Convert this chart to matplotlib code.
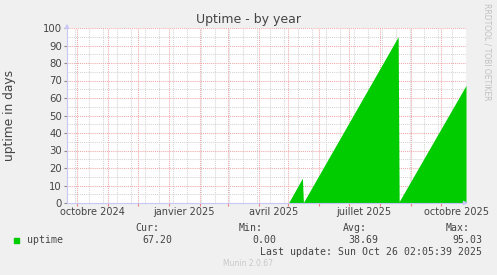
import matplotlib
matplotlib.use("Agg")
import matplotlib.pyplot as plt
import matplotlib.dates as mdates
import matplotlib.transforms as mtransforms
import pandas as pd
import numpy as np

# uptime in days, breakpoints of the series (no data before May 2025)
dates = pd.to_datetime([
    "2025-05-01", "2025-05-15", "2025-05-16",
    "2025-08-19", "2025-08-20", "2025-10-26",
])
uptime = [0.0, 14.2, 0.3, 95.03, 0.8, 67.2]

month_labels = ["octobre 2024", "janvier 2025", "avril 2025", "juillet 2025", "octobre 2025"]
label_dates = pd.to_datetime(["2024-10-16", "2025-01-16", "2025-04-16", "2025-07-16", "2025-10-16"])

stats_heads = ["Cur:", "Min:", "Avg:", "Max:"]
stats_values = ["67.20", "0.00", "38.69", "95.03"]

W, H = 497, 275
BG = "#F0F0F0"
TXT = "#444444"
AXC = "#C8C8F8"

fig = plt.figure(figsize=(W / 100, H / 100), dpi=100, facecolor=BG)
ax = fig.add_axes([67 / W, (H - 203) / H, (466 - 67) / W, (203 - 28) / H])
ax.set_facecolor("white")

ax.fill_between(dates, uptime, 0, color="#00CC00", linewidth=0, zorder=3)

ax.set_xlim(pd.Timestamp("2024-09-21"), pd.Timestamp("2025-10-26"))
ax.set_ylim(0, 100)

# grid: red major, grey minor
ax.xaxis.set_major_locator(mdates.MonthLocator())
minor_dates = pd.date_range("2024-09-29", "2025-10-26", freq="14D")
ax.xaxis.set_minor_locator(matplotlib.ticker.FixedLocator(mdates.date2num(minor_dates)))
ax.yaxis.set_major_locator(matplotlib.ticker.MultipleLocator(10))
ax.yaxis.set_minor_locator(matplotlib.ticker.MultipleLocator(5))
dots = (0, (1, 1))
ax.grid(which="minor", color="#D4D4D4", linestyle=dots, linewidth=0.75, zorder=1)
ax.grid(which="major", color="#F0A8A8", linestyle=dots, linewidth=0.75, zorder=2)
ax.set_axisbelow(True)

ax.xaxis.set_major_formatter(matplotlib.ticker.NullFormatter())
ax.tick_params(axis="x", which="major", length=2, color="#F08080", direction="out")
ax.tick_params(axis="x", which="minor", length=0)
ax.tick_params(axis="y", which="major", length=2, color="#888888", labelsize=7.3,
               labelcolor=TXT, pad=1.5)
ax.tick_params(axis="y", which="minor", length=0)

for s in ["top", "right"]:
    ax.spines[s].set_visible(False)
for s in ["left", "bottom"]:
    ax.spines[s].set_color(AXC)
    ax.spines[s].set_linewidth(0.8)
    ax.spines[s].set_zorder(4)

# axis arrows
ax.annotate("", xy=(0, 1.04), xytext=(0, 0.99), xycoords="axes fraction",
            arrowprops=dict(arrowstyle="-|>", color=AXC, lw=0.8, mutation_scale=6),
            annotation_clip=False)
ax.annotate("", xy=(1.012, 0), xytext=(0.99, 0), xycoords="axes fraction",
            arrowprops=dict(arrowstyle="-|>", color=AXC, lw=0.8, mutation_scale=6),
            annotation_clip=False)

trans = mtransforms.blended_transform_factory(ax.transData, fig.transFigure)
for d, lab in zip(label_dates, month_labels):
    ax.text(mdates.date2num(d), 1 - 212 / H, lab, transform=trans, ha="center",
            va="center", fontsize=7, color=TXT)

fig.text(W / 2 / W, 1 - 19 / H, "Uptime - by year", ha="center", va="center",
         fontsize=9, color=TXT)
fig.text(10 / W, 1 - 115 / H, "uptime in days", rotation=90, ha="center",
         va="center", fontsize=8.8, color=TXT)
fig.text(487 / W, 1 - 52 / H, "RRDTOOL / TOBI OETIKER", rotation=270, ha="center",
         va="center", fontsize=5.5, color="#C0C0C0")

mono = "DejaVu Sans Mono"
head_right = [159, 263, 367, 470]
value_right = [172, 276, 378, 482]
for hx, h in zip(head_right, stats_heads):
    fig.text(hx / W, 1 - 228 / H, h, ha="right", va="center", family=mono,
             fontsize=7.1, color=TXT)
for vx, v in zip(value_right, stats_values):
    fig.text(vx / W, 1 - 240 / H, v, ha="right", va="center", family=mono,
             fontsize=7.1, color=TXT)
fig.patches.append(plt.Rectangle((14 / W, 1 - 243 / H), 5 / W, 5 / H,
                                 transform=fig.transFigure, color="#00CC00"))
fig.text(27 / W, 1 - 240 / H, "uptime", ha="left", va="center", family=mono,
         fontsize=7.1, color=TXT)
fig.text(482 / W, 1 - 252 / H, "Last update: Sun Oct 26 02:05:39 2025", ha="right",
         va="center", family=mono, fontsize=7.1, color=TXT)
fig.text(248 / W, 1 - 263 / H, "Munin 2.0.67", ha="center", va="center",
         fontsize=5.5, color="#C8C8C8")

fig.savefig("out.png", dpi=100, facecolor=BG)
